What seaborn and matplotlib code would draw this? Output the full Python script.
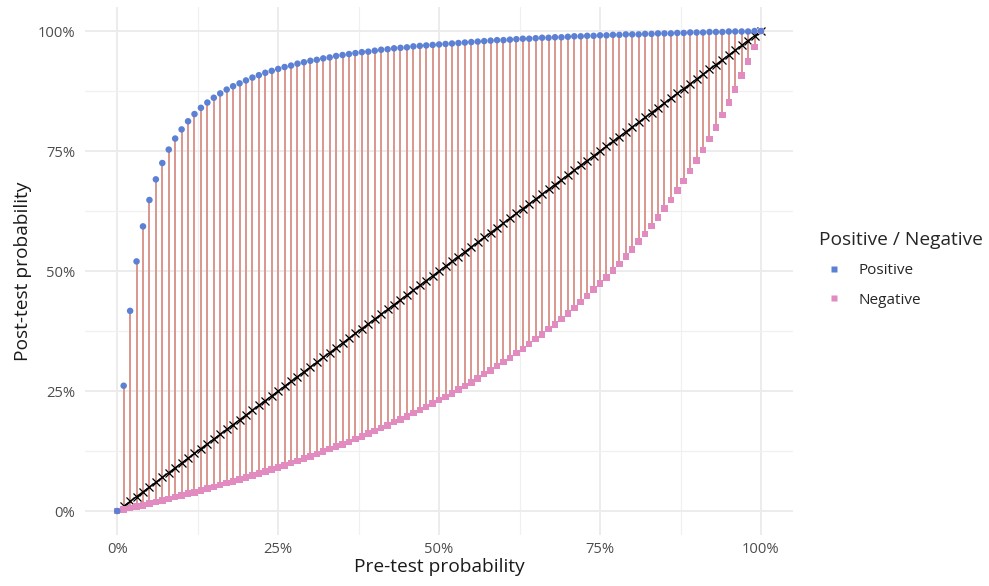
import pandas as pd
import matplotlib.pyplot as plt
import matplotlib.ticker as mticker
from matplotlib.lines import Line2D
import seaborn as sns

# Pre-test probability grid (0% .. 100%)
pre_test = [
    0.00, 0.01, 0.02, 0.03, 0.04, 0.05, 0.06, 0.07, 0.08, 0.09,
    0.10, 0.11, 0.12, 0.13, 0.14, 0.15, 0.16, 0.17, 0.18, 0.19,
    0.20, 0.21, 0.22, 0.23, 0.24, 0.25, 0.26, 0.27, 0.28, 0.29,
    0.30, 0.31, 0.32, 0.33, 0.34, 0.35, 0.36, 0.37, 0.38, 0.39,
    0.40, 0.41, 0.42, 0.43, 0.44, 0.45, 0.46, 0.47, 0.48, 0.49,
    0.50, 0.51, 0.52, 0.53, 0.54, 0.55, 0.56, 0.57, 0.58, 0.59,
    0.60, 0.61, 0.62, 0.63, 0.64, 0.65, 0.66, 0.67, 0.68, 0.69,
    0.70, 0.71, 0.72, 0.73, 0.74, 0.75, 0.76, 0.77, 0.78, 0.79,
    0.80, 0.81, 0.82, 0.83, 0.84, 0.85, 0.86, 0.87, 0.88, 0.89,
    0.90, 0.91, 0.92, 0.93, 0.94, 0.95, 0.96, 0.97, 0.98, 0.99,
    1.00,
]

# Post-test probability after a positive result
post_positive = [
    0.000, 0.261, 0.417, 0.520, 0.593, 0.648, 0.691, 0.725, 0.753, 0.776,
    0.795, 0.812, 0.827, 0.840, 0.851, 0.861, 0.870, 0.878, 0.885, 0.891,
    0.897, 0.903, 0.908, 0.913, 0.917, 0.921, 0.925, 0.928, 0.932, 0.935,
    0.938, 0.940, 0.943, 0.945, 0.948, 0.950, 0.952, 0.954, 0.956, 0.957,
    0.959, 0.961, 0.962, 0.964, 0.965, 0.966, 0.968, 0.969, 0.970, 0.971,
    0.972, 0.973, 0.974, 0.975, 0.976, 0.977, 0.978, 0.979, 0.980, 0.981,
    0.981, 0.982, 0.983, 0.984, 0.984, 0.985, 0.986, 0.986, 0.987, 0.987,
    0.988, 0.989, 0.989, 0.990, 0.990, 0.991, 0.991, 0.992, 0.992, 0.993,
    0.993, 0.993, 0.994, 0.994, 0.995, 0.995, 0.995, 0.996, 0.996, 0.997,
    0.997, 0.997, 0.998, 0.998, 0.998, 0.999, 0.999, 0.999, 0.999, 1.000,
    1.000,
]

# Post-test probability after a negative result
post_negative = [
    0.000, 0.003, 0.006, 0.009, 0.012, 0.016, 0.019, 0.022, 0.025, 0.029,
    0.032, 0.036, 0.039, 0.043, 0.047, 0.050, 0.054, 0.058, 0.062, 0.066,
    0.070, 0.074, 0.078, 0.082, 0.087, 0.091, 0.095, 0.100, 0.104, 0.109,
    0.114, 0.119, 0.124, 0.129, 0.134, 0.139, 0.144, 0.150, 0.155, 0.161,
    0.167, 0.173, 0.178, 0.185, 0.191, 0.197, 0.204, 0.210, 0.217, 0.224,
    0.231, 0.238, 0.245, 0.253, 0.260, 0.268, 0.276, 0.285, 0.293, 0.302,
    0.310, 0.319, 0.329, 0.338, 0.348, 0.358, 0.368, 0.379, 0.389, 0.400,
    0.412, 0.423, 0.435, 0.448, 0.461, 0.474, 0.487, 0.501, 0.515, 0.530,
    0.545, 0.561, 0.577, 0.594, 0.612, 0.630, 0.648, 0.668, 0.688, 0.708,
    0.730, 0.752, 0.775, 0.799, 0.825, 0.851, 0.878, 0.907, 0.936, 0.967,
    1.000,
]

series_names = ["Positive", "Negative"]
series_colors = {"Positive": "#5C80D3", "Negative": "#E28BC1"}
segment_color = "#D9968E"


def main():
    sns.set_theme(style="whitegrid")
    plt.rcParams["font.family"] = ["Open Sans", "DejaVu Sans"]

    pos_df = pd.DataFrame({"pre": pre_test, "post": post_positive})
    neg_df = pd.DataFrame({"pre": pre_test, "post": post_negative})
    # segments and diagonal start at 1%
    seg_df = pd.DataFrame({"pre": pre_test, "lo": post_negative, "hi": post_positive}).iloc[1:]

    fig = plt.figure(figsize=(9.89, 5.86), dpi=100)
    ax = fig.add_axes([0.086, 0.087, 0.716, 0.901])

    # vertical segments negative -> positive
    ax.vlines(seg_df["pre"], seg_df["lo"], seg_df["hi"], color=segment_color,
              linewidth=1.4, zorder=2)

    # diagonal (no change) line with x markers
    sns.lineplot(x=seg_df["pre"], y=seg_df["pre"], ax=ax, color="black",
                 linewidth=1.0, marker="x", markersize=5.5, markeredgewidth=0.9,
                 markeredgecolor="black", zorder=3)

    sns.scatterplot(data=neg_df, x="pre", y="post", ax=ax, marker="s", s=22,
                    color=series_colors["Negative"], edgecolor="none", zorder=4)
    sns.scatterplot(data=pos_df, x="pre", y="post", ax=ax, marker="o", s=22,
                    color=series_colors["Positive"], edgecolor="none", zorder=5)

    ax.set_xlim(-0.05, 1.05)
    ax.set_ylim(-0.05, 1.05)
    ticks = [0, 0.25, 0.5, 0.75, 1.0]
    ax.set_xticks(ticks)
    ax.set_yticks(ticks)
    ax.xaxis.set_major_formatter(mticker.PercentFormatter(1.0, decimals=0))
    ax.yaxis.set_major_formatter(mticker.PercentFormatter(1.0, decimals=0))
    ax.set_xticks([0.125, 0.375, 0.625, 0.875], minor=True)
    ax.set_yticks([0.125, 0.375, 0.625, 0.875], minor=True)

    ax.set_facecolor("white")
    ax.grid(True, which="major", color="#EBEBEB", linewidth=1.3)
    ax.grid(True, which="minor", color="#F0F0F0", linewidth=0.9)
    for spine in ax.spines.values():
        spine.set_visible(False)
    ax.tick_params(which="both", length=0, labelsize=10.6, labelcolor="#4D4D4D")
    ax.tick_params(axis="x", pad=5)
    ax.tick_params(axis="y", pad=7)

    ax.set_xlabel("Pre-test probability", fontsize=13.8, color="#1A1A1A", labelpad=1)
    ax.set_ylabel("Post-test probability", fontsize=13.8, color="#1A1A1A", labelpad=4)

    handles = [
        Line2D([], [], linestyle="none", marker="s", markersize=5,
               markerfacecolor=series_colors[name], markeredgecolor="none")
        for name in series_names
    ]
    leg = fig.legend(handles, series_names, title="Positive / Negative",
                     loc="upper left", bbox_to_anchor=(0.814, 0.630),
                     frameon=False, fontsize=11, title_fontsize=13.8,
                     handletextpad=0.6, labelspacing=0.95)
    leg._legend_box.align = "left"

    fig.savefig("out.png", dpi=100)
    plt.close(fig)


if __name__ == "__main__":
    main()
